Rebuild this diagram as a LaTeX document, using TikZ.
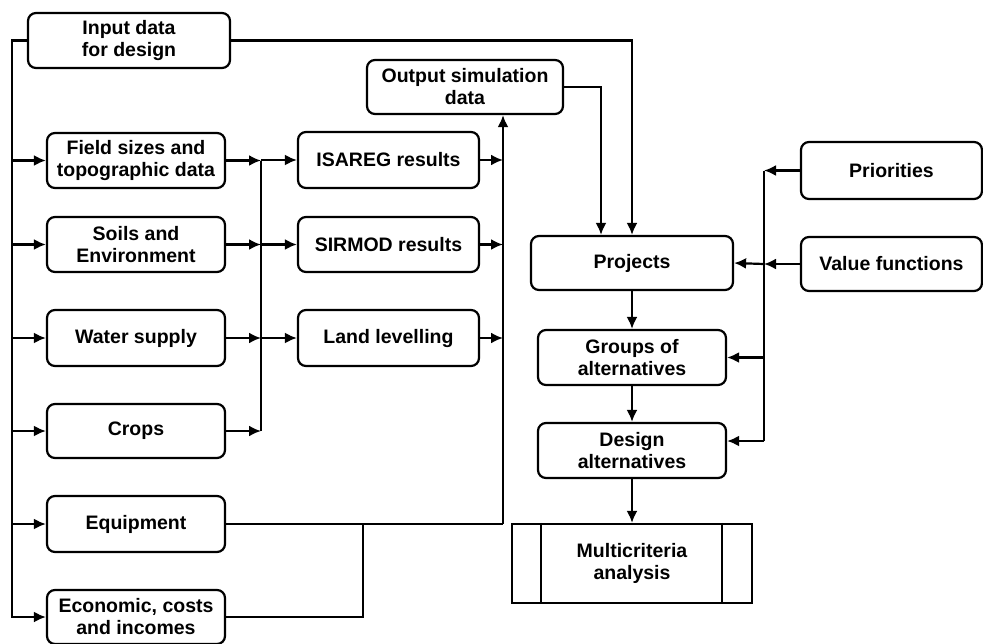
\documentclass[tikz,border=0pt]{standalone}
\usepackage{fontspec}
\setmainfont{Liberation Sans}
\usetikzlibrary{arrows.meta}
\begin{document}
\begin{tikzpicture}[x=1pt,y=-1pt,
  box/.style={draw, line width=2.2pt, rounded corners=8pt, align=center, inner sep=0pt,
    font=\fontsize{19.5}{22}\selectfont\bfseries, fill=white},
  plain/.style={draw, line width=2.2pt, align=center, inner sep=0pt,
    font=\fontsize{19.5}{22}\selectfont\bfseries},
  ln/.style={line width=2.2pt},
  arr/.style={line width=2.2pt, -{Latex[length=12pt,width=11pt]}}]
\useasboundingbox (0,0) rectangle (983,643);
% boxes
\node[box, minimum width=202pt, minimum height=55pt] (inp) at (129,40.5) {Input data\\for design};
\node[box, minimum width=178pt, minimum height=55pt] (field) at (136,160.5) {Field sizes and\\topographic data};
\node[box, minimum width=178pt, minimum height=55pt] (soils) at (136,244.5) {Soils and\\Environment};
\node[box, minimum width=178pt, minimum height=56pt] (water) at (136,338) {Water supply};
\node[box, minimum width=178pt, minimum height=54pt] (crops) at (136,431) {Crops};
\node[box, minimum width=178pt, minimum height=56pt] (equip) at (136,524) {Equipment};
\node[box, minimum width=178pt, minimum height=54pt] (econ) at (136,617) {Economic, costs\\and incomes};
\node[box, minimum width=181pt, minimum height=56pt] (isareg) at (388.5,160) {ISAREG results};
\node[box, minimum width=181pt, minimum height=55pt] (sirmod) at (388.5,244.5) {SIRMOD results};
\node[box, minimum width=181pt, minimum height=56pt] (land) at (388.5,338) {Land levelling};
\node[box, minimum width=196pt, minimum height=54pt] (output) at (465,87) {Output simulation\\data};
\node[box, minimum width=202pt, minimum height=54pt] (proj) at (632,263) {Projects};
\node[box, minimum width=188pt, minimum height=55pt] (groups) at (632,357.5) {Groups of\\alternatives};
\node[box, minimum width=188pt, minimum height=55pt] (design) at (632,450.5) {Design\\alternatives};
\node[plain, minimum width=240pt, minimum height=79pt] (multi) at (632,563.5) {Multicriteria\\analysis};
\draw[ln] ([xshift=30pt]multi.north west) -- ([xshift=30pt]multi.south west);
\draw[ln] ([xshift=-31pt]multi.north east) -- ([xshift=-31pt]multi.south east);
\node[box, minimum width=181pt, minimum height=57pt] (prio) at (891.5,170.5) {Priorities};
\node[box, minimum width=181pt, minimum height=54pt] (valf) at (891.5,264) {Value functions};
% coordinates
\coordinate (tl) at (12,40.5);
\coordinate (b1) at (261,160.5);
\coordinate (b1b) at (261,431);
\coordinate (b2) at (503,114);
\coordinate (b2b) at (503,524);
\coordinate (j) at (363,524);
\coordinate (oc) at (601,87);
\coordinate (rb) at (764,170.5);
\coordinate (rbb) at (764,441);
% left trunk
\draw[arr] (inp.west) -- (tl) -- (tl |- econ.west) -- (econ.west);
\foreach \n in {field,soils,water,crops,equip}
  \draw[arr] (tl |- \n.west) -- (\n.west);
% first bus
\draw[ln] (b1) -- (b1b);
\foreach \n in {field,soils,water,crops}
  \draw[arr] (\n.east) -- (b1 |- \n.east);
\foreach \n in {isareg,sirmod,land}
  \draw[arr] (b1 |- \n.west) -- (\n.west);
% second bus
\draw[arr] (b2b) -- (b2b |- output.south);
\foreach \n in {isareg,sirmod,land}
  \draw[arr] (\n.east) -- (b2 |- \n.east);
\draw[ln] (equip.east) -- (b2b);
\draw[ln] (econ.east) -- (j |- econ.east) -- (j);
% to projects
\draw[arr] (output.east) -- (oc) -- (oc |- proj.north);
\draw[arr] (inp.east) -| (proj.north);
\draw[arr] (proj) -- (groups);
\draw[arr] (groups) -- (design);
\draw[arr] (design) -- (multi);
% right bus
\draw[ln] (rb) -- (rbb);
\draw[arr] (prio.west) -- (rb);
\draw[arr] (valf.west) -- (rb |- valf.west);
\draw[arr] (rb |- valf.west) -- (proj.east);
\draw[arr] (rb |- groups.east) -- (groups.east);
\draw[arr] (rbb) -- (rbb -| design.east);
\end{tikzpicture}
\end{document}
